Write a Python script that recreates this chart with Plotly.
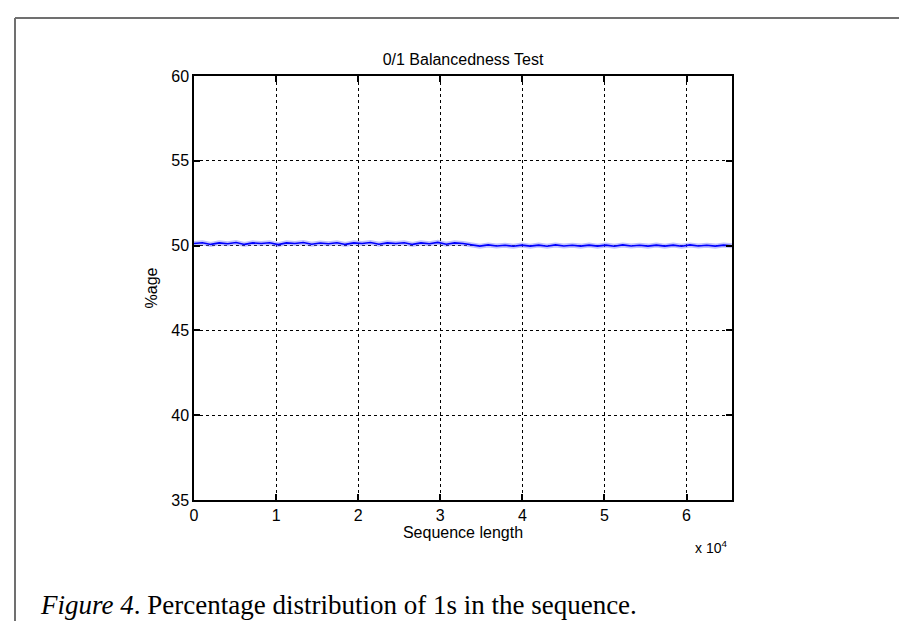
import plotly.graph_objects as go

# ---- data ----
title_text = "0/1 Balancedness Test"
x_label = "Sequence length"
y_label = "%age"
caption = "<i>Figure 4</i>. Percentage distribution of 1s in the sequence."
x_tick_vals = [0, 10000, 20000, 30000, 40000, 50000, 60000]
x_tick_text = ["0", "1", "2", "3", "4", "5", "6"]
y_tick_vals = [35, 40, 45, 50, 55, 60]
seq_step = 1024
pct_ones = [
    50.12, 50.17, 50.07, 50.16, 50.11, 50.18, 50.07, 50.16, 50.12, 50.17,
    50.06, 50.16, 50.12, 50.18, 50.08, 50.15, 50.11, 50.17, 50.07, 50.16,
    50.12, 50.18, 50.08, 50.16, 50.12, 50.17, 50.07, 50.16, 50.11, 50.19,
    50.08, 50.16, 50.12,
    50.03, 49.97, 50.04, 49.98, 50.02, 49.96, 50.03, 49.97, 50.03, 49.96,
    50.04, 49.98, 50.02, 49.97, 50.03, 49.97, 50.03, 49.96, 50.04, 49.98,
    50.02, 49.97, 50.03, 49.97, 50.03, 49.96, 50.04, 49.98, 50.02, 49.97,
    50.03, 49.99,
]
seq_len = [i * seq_step for i in range(len(pct_ones))]

W, H = 907, 621
L, R, T, B = 186, 724, 68, 492

def px(xp):
    return (xp - L) / (R - L)

def py(yp):
    return (B - yp) / (B - T)

fig = go.Figure()
fig.add_trace(go.Scatter(x=seq_len, y=pct_ones, mode="lines",
                         line=dict(color="rgba(120,120,255,0.45)", width=5),
                         hoverinfo="skip", showlegend=False))
fig.add_trace(go.Scatter(x=seq_len, y=pct_ones, mode="lines",
                         line=dict(color="#0000ff", width=1.6),
                         showlegend=False))

font_sans = "Liberation Sans, Arial, sans-serif"
axis_common = dict(
    showline=True, linecolor="black", linewidth=1.5, mirror="ticks",
    ticks="inside", ticklen=6, tickcolor="black", tickwidth=1.5,
    showgrid=True, gridcolor="black", gridwidth=1, griddash="dot",
    zeroline=False, tickfont=dict(family=font_sans, size=16, color="black"),
)

fig.update_layout(
    width=W, height=H,
    margin=dict(l=L, r=W - R, t=T, b=H - B),
    paper_bgcolor="white", plot_bgcolor="white",
    font=dict(family=font_sans, color="black"),
    xaxis=dict(range=[0, 65536], tickvals=x_tick_vals, ticktext=x_tick_text,
               title=dict(text=x_label, font=dict(size=16), standoff=2),
               **axis_common),
    yaxis=dict(range=[35, 60], tickvals=y_tick_vals,
               title=dict(text=y_label, font=dict(size=16), standoff=10),
               **axis_common),
    title=dict(text=title_text, font=dict(size=16, family=font_sans),
               x=(L + R) / 2 / W, xanchor="center",
               y=1 - 51 / H, yanchor="middle"),
    shapes=[
        dict(type="line", xref="paper", yref="paper",
             x0=px(7), x1=px(W + 5), y0=py(10), y1=py(10),
             line=dict(color="#707070", width=2)),
        dict(type="line", xref="paper", yref="paper",
             x0=px(7), x1=px(7), y0=py(10), y1=py(H + 5),
             line=dict(color="#707070", width=2)),
    ],
    annotations=[
        dict(text="x 10<sup>4</sup>", xref="paper", yref="paper",
             x=px(721), y=py(539), xanchor="right", yanchor="middle",
             showarrow=False, font=dict(family=font_sans, size=14)),
        dict(text=caption, xref="paper", yref="paper",
             x=px(30), y=py(597), xanchor="left", yanchor="middle",
             showarrow=False,
             font=dict(family="Liberation Serif, Times New Roman, serif",
                       size=27, color="black")),
    ],
)

fig.write_html("out.html")
